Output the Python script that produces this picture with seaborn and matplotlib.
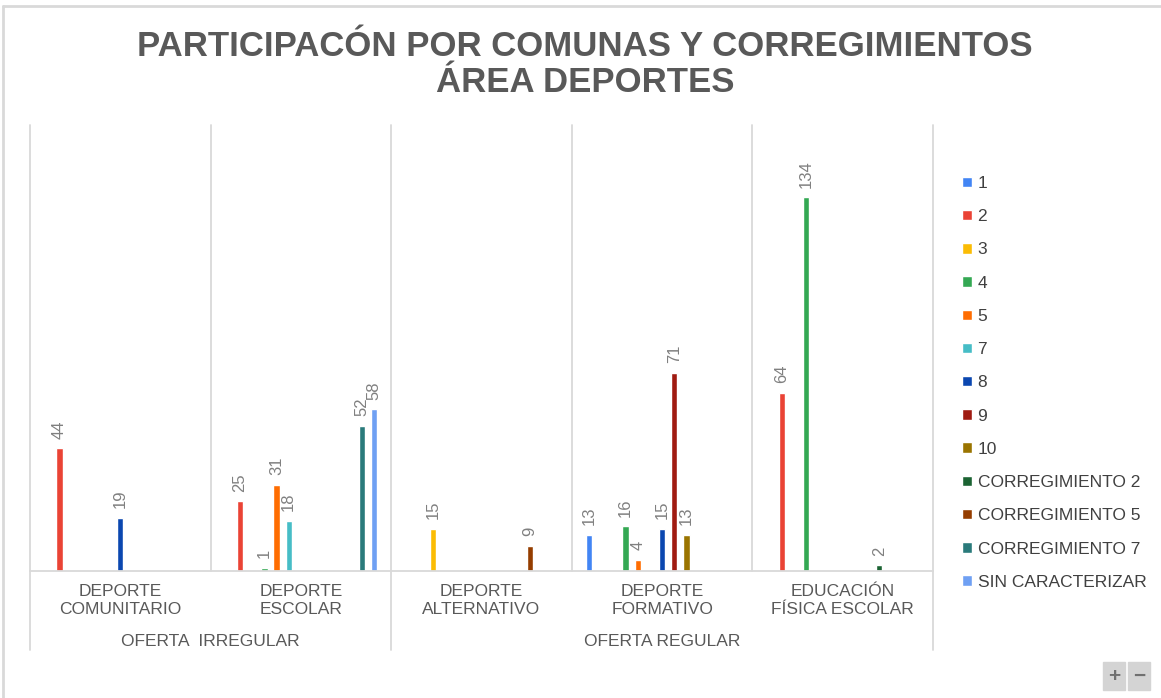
import pandas as pd
import matplotlib.pyplot as plt
import seaborn as sns
import matplotlib.transforms as mtransforms
from matplotlib.lines import Line2D
from matplotlib.patches import Rectangle

# Categorías del eje X (dos niveles)
categorias = [
    "DEPORTE\nCOMUNITARIO",
    "DEPORTE\nESCOLAR",
    "DEPORTE\nALTERNATIVO",
    "DEPORTE\nFORMATIVO",
    "EDUCACIÓN\nFÍSICA ESCOLAR",
]
grupos = ["OFERTA  IRREGULAR", "OFERTA REGULAR"]
categorias_por_grupo = [2, 3]

# Series (comunas y corregimientos)
series = [
    "1", "2", "3", "4", "5", "7", "8", "9", "10",
    "CORREGIMIENTO 2", "CORREGIMIENTO 5", "CORREGIMIENTO 7", "SIN CARACTERIZAR",
]
colores = [
    "#4285F4", "#EA4335", "#FBBC04", "#34A853", "#FF6D01", "#46BDC6",
    "#0B47B0", "#A01B12", "#9A7400", "#1B6332", "#953D00", "#2A7A7B", "#6FA0F3",
]

# Valores por serie, uno por categoría (0 = sin dato)
v_1 = [0, 0, 0, 13, 0]
v_2 = [44, 25, 0, 0, 64]
v_3 = [0, 0, 15, 0, 0]
v_4 = [0, 1, 0, 16, 134]
v_5 = [0, 31, 0, 4, 0]
v_7 = [0, 18, 0, 0, 0]
v_8 = [19, 0, 0, 15, 0]
v_9 = [0, 0, 0, 71, 0]
v_10 = [0, 0, 0, 13, 0]
v_corr2 = [0, 0, 0, 0, 2]
v_corr5 = [0, 0, 9, 0, 0]
v_corr7 = [0, 52, 0, 0, 0]
v_sin = [0, 58, 0, 0, 0]

valores = [v_1, v_2, v_3, v_4, v_5, v_7, v_8, v_9, v_10,
           v_corr2, v_corr5, v_corr7, v_sin]

filas = []
for s, vals in zip(series, valores):
    for c, v in zip(categorias, vals):
        filas.append({"Categoria": c, "Serie": s, "Valor": v})
df = pd.DataFrame(filas)

sns.set_style("white")
plt.rcParams["font.family"] = ["Liberation Sans", "DejaVu Sans"]

gris_linea = "#d9d9d9"
gris_texto = "#595959"

fig = plt.figure(figsize=(11.61, 6.98), dpi=100)
ax = fig.add_axes([30 / 1161, 1 - 571 / 698, (933 - 30) / 1161, (571 - 125) / 698])

sns.barplot(
    data=df, x="Categoria", y="Valor", hue="Serie",
    order=categorias, hue_order=series, palette=colores,
    width=0.876, gap=0.48, saturation=1, errorbar=None, ax=ax,
)

# Etiquetas de datos
for cont in ax.containers:
    etiquetas = [f"{v:g}" if v > 0 else "" for v in cont.datavalues]
    ax.bar_label(cont, labels=etiquetas, rotation=90, padding=7,
                 color="#808080", fontsize=12)

ax.set_xlim(-0.5, len(categorias) - 0.5)
ax.set_ylim(0, 160)
ax.set_xticks([])
ax.set_yticks([])
ax.set_xlabel("")
ax.set_ylabel("")
for lado in ["top", "left", "right"]:
    ax.spines[lado].set_visible(False)
ax.spines["bottom"].set_color(gris_linea)
ax.spines["bottom"].set_linewidth(1.3)

trans = mtransforms.blended_transform_factory(ax.transData, ax.transAxes)

# Separadores de categorías y de grupos
limites_grupo = [-0.5]
for n in categorias_por_grupo:
    limites_grupo.append(limites_grupo[-1] + n)
for i in range(len(categorias) + 1):
    xb = i - 0.5
    y0 = -0.177 if xb in limites_grupo else 0
    ax.add_line(Line2D([xb, xb], [y0, 1], transform=trans, color=gris_linea,
                       lw=1.3, clip_on=False))

# Etiquetas de categoría
for i, c in enumerate(categorias):
    ax.text(i, -0.03, c, transform=trans, ha="center", va="top",
            fontsize=12.5, color=gris_texto, linespacing=1.2)

# Etiquetas de grupo
for g, a, b in zip(grupos, limites_grupo[:-1], limites_grupo[1:]):
    ax.text((a + b) / 2, -0.157, g, transform=trans, ha="center",
            va="center", fontsize=12.5, color=gris_texto)

# Leyenda
handles, labels = ax.get_legend_handles_labels()
ax.get_legend().remove()
fig.legend(handles, labels, loc="upper left",
           bbox_to_anchor=(962 / 1161, 1 - 176 / 698),
           frameon=False, fontsize=12.5, labelcolor="#404040",
           handlelength=0.55, handleheight=0.55, handletextpad=0.35,
           labelspacing=1.05, borderpad=0, borderaxespad=0)

# Título
fig.text(0.504, 1 - 30 / 698,
         "PARTICIPACÓN POR COMUNAS Y CORREGIMIENTOS\nÁREA DEPORTES",
         ha="center", va="top", fontsize=25, fontweight="bold",
         color=gris_texto, linespacing=1.1)

# Borde del gráfico
fig.add_artist(Line2D([3 / 1161, 1], [1 - 6 / 698, 1 - 6 / 698],
                      transform=fig.transFigure, color=gris_linea, lw=2))
fig.add_artist(Line2D([3 / 1161, 3 / 1161], [0, 1 - 6 / 698],
                      transform=fig.transFigure, color=gris_linea, lw=2))

# Botones de zoom
for x0, simbolo in [(1103, "+"), (1128, "−")]:
    fig.add_artist(Rectangle((x0 / 1161, 1 - 690 / 698), 22 / 1161, 28 / 698,
                             transform=fig.transFigure, color="#d4d4d4"))
    fig.text((x0 + 11) / 1161, 1 - 676 / 698, simbolo, ha="center",
             va="center", fontsize=15, fontweight="bold", color="#707070")

fig.savefig("out.png", dpi=100, facecolor="white")
